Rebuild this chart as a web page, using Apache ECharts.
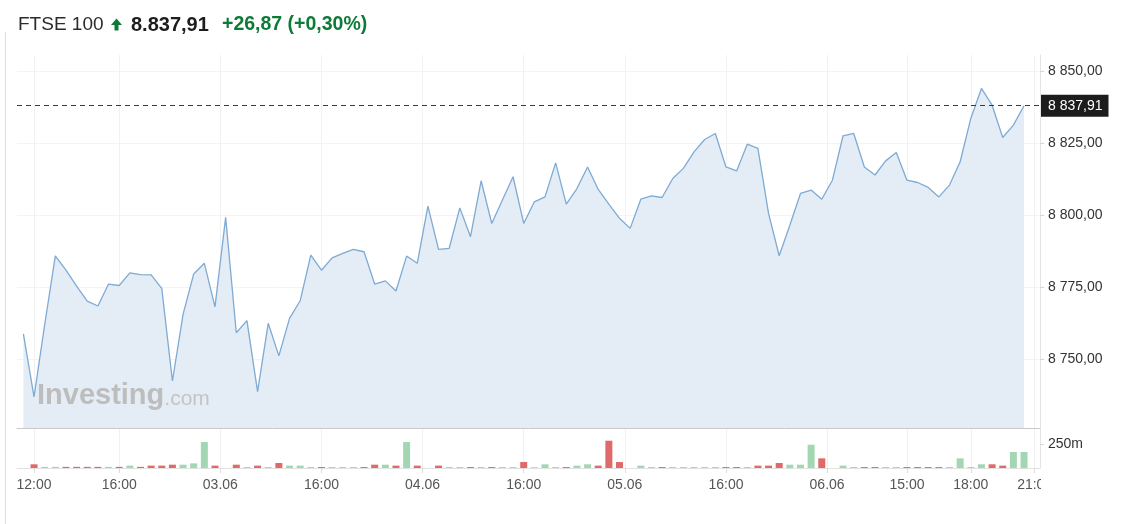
<!DOCTYPE html>
<html><head><meta charset="utf-8">
<script src="https://cdn.jsdelivr.net/npm/echarts@6/dist/echarts.min.js"></script>
<style>html,body{margin:0;padding:0;background:#fff}#c{width:1126px;height:524px}</style>
</head><body><div id="c"></div>
<script>
// ---- data (half-hour points, 02.06 11:30 -> 06.06 20:30) ----
const prices = [
  8758.8, 8737.0, 8762.0, 8785.9, 8780.9, 8775.4, 8770.2, 8768.5, 8776.1, 8775.6,
  8780.0, 8779.4, 8779.3, 8774.6, 8742.5, 8765.6, 8779.6, 8783.3, 8768.2, 8799.2,
  8759.2, 8763.4, 8738.8, 8762.5, 8751.2, 8764.2, 8770.3, 8786.1, 8780.9, 8785.2,
  8786.7, 8788.1, 8787.3, 8776.1, 8777.2, 8773.7, 8785.8, 8783.3, 8803.1, 8788.1,
  8788.5, 8802.5, 8792.5, 8811.9, 8797.1, 8805.2, 8813.3, 8797.1, 8804.6, 8806.3,
  8818.1, 8803.8, 8809.2, 8816.7, 8808.9, 8803.8, 8798.9, 8795.4, 8805.5, 8806.7,
  8806.1, 8812.7, 8816.2, 8821.9, 8826.2, 8828.3, 8816.7, 8815.3, 8824.6, 8823.1,
  8800.6, 8785.9, 8796.5, 8807.5, 8808.7, 8805.5, 8812.1, 8827.5, 8828.3, 8816.7,
  8813.9, 8818.8, 8821.7, 8812.1, 8811.3, 8809.6, 8806.3, 8810.4, 8818.5, 8833.5,
  8843.9, 8838.1, 8826.9, 8831.2, 8837.91
];
// volume in millions
const volumes = [
  0, 39, 12, 12, 12, 12, 12, 12, 12, 12,
  25, 12, 25, 25, 35, 35, 49, 274, 25, 0,
  35, 10, 25, 10, 53, 25, 25, 10, 10, 10,
  10, 10, 10, 35, 35, 25, 274, 25, 0, 25,
  10, 10, 10, 10, 10, 10, 10, 63, 8, 39,
  10, 10, 25, 39, 25, 288, 63, 0, 25, 10,
  10, 10, 10, 10, 10, 10, 10, 10, 10, 25,
  25, 53, 35, 35, 246, 102, 0, 25, 10, 10,
  10, 10, 10, 10, 10, 10, 10, 10, 102, 10,
  39, 39, 25, 169, 169
];
const tickPositions = [1, 9, 18.5, 28, 37.5, 47, 56.5, 66, 75.5, 83, 89, 95];
const tickLabels = ['12:00','16:00','03.06','16:00','04.06','16:00','05.06','16:00','06.06','15:00','18:00','21:00'];
const priceTicks = [8750, 8775, 8800, 8825, 8850];
const volumeTicks = [250];
const lastPrice = 8837.91;
const headerName = 'FTSE 100';
const headerPrice = '8.837,91';
const headerChange = '+26,87 (+0,30%)';

// ---- helpers ----
function fmtPrice(v) {
  const s = Number(v).toFixed(2).split('.');
  return s[0].replace(/\B(?=(\d{3})+(?!\d))/g, ' ') + ',' + s[1];
}
function tickLabel(v) {
  for (let i = 0; i < tickPositions.length; i++) if (Math.abs(tickPositions[i] - v) < 1e-6) return tickLabels[i];
  return '';
}
const UP = '#a3d7b3', DOWN = '#e06a69';
const AXISFONT = '"Liberation Sans", Arial, sans-serif';
const HEADFONT = '"Liberation Sans", Arial, sans-serif';

const chart = echarts.init(document.getElementById('c'), null, {renderer: 'canvas'});
const gridL = 17, gridR = 86;
chart.setOption({
  animation: false,
  backgroundColor: '#fff',
  grid: [
    {left: gridL, right: gridR, top: 55, height: 373},
    {left: gridL, right: gridR, top: 428, height: 40}
  ],
  xAxis: [
    {type: 'value', gridIndex: 0, min: -0.6, max: 95.5,
     axisLine: {show: true, onZero: false, lineStyle: {color: '#c9c9c9'}},
     axisTick: {show: false, customValues: tickPositions},
     axisLabel: {show: false, customValues: tickPositions},
     splitLine: {show: true, lineStyle: {color: '#f1f1f1', width: 1}}},
    {type: 'value', gridIndex: 1, min: -0.6, max: 95.5,
     axisLine: {show: true, onZero: false, lineStyle: {color: '#e2e2e2'}},
     axisTick: {show: true, length: 5, customValues: tickPositions, lineStyle: {color: '#dcdcdc'}},
     axisLabel: {show: true, customValues: tickPositions, formatter: tickLabel, margin: 10,
                 color: '#555', fontSize: 14, fontFamily: AXISFONT},
     splitLine: {show: true, lineStyle: {color: '#f1f1f1', width: 1}}}
  ],
  yAxis: [
    {type: 'value', gridIndex: 0, position: 'right', min: 8726.2, max: 8855.5,
     axisLine: {show: true, onZero: false, lineStyle: {color: '#e4e4e4'}},
     axisTick: {show: true, length: 4, customValues: priceTicks, lineStyle: {color: '#d4d4d4'}},
     axisLabel: {customValues: priceTicks, formatter: fmtPrice, margin: 8, color: '#333',
                 fontSize: 14, fontFamily: AXISFONT},
     splitLine: {show: true, lineStyle: {color: '#f3f3f3'}}},
    {type: 'value', gridIndex: 1, position: 'right', min: 0, max: 422,
     axisLine: {show: true, onZero: false, lineStyle: {color: '#e4e4e4'}},
     axisTick: {show: true, length: 4, customValues: volumeTicks, lineStyle: {color: '#d4d4d4'}},
     axisLabel: {customValues: volumeTicks, formatter: v => v + 'm', margin: 8, color: '#333',
                 fontSize: 14, fontFamily: AXISFONT},
     splitLine: {show: false}}
  ],
  series: [
    {type: 'line', xAxisIndex: 0, yAxisIndex: 0, showSymbol: false, silent: true,
     data: prices.map((v, i) => [i, v]),
     lineStyle: {color: '#7eaad3', width: 1.3},
     areaStyle: {color: '#e4edf6', opacity: 1, origin: 'start'},
     z: 2,
     markLine: {symbol: 'none', silent: true, animation: false,
       data: [{yAxis: lastPrice}],
       lineStyle: {type: [5, 4], color: '#3a3a3a', width: 1},
       label: {position: 'end', distance: 1, formatter: () => fmtPrice(lastPrice),
               backgroundColor: '#1c1c1c', color: '#fff', padding: [4, 6, 4, 7],
               fontSize: 14, fontFamily: AXISFONT}}},
    {type: 'bar', xAxisIndex: 1, yAxisIndex: 1, barWidth: 7, silent: true,
     data: volumes.map((v, i) => ({value: [i, v],
       itemStyle: {color: (i > 0 && prices[i] < prices[i - 1]) ? DOWN : UP}}))}
  ],
  graphic: [
    {type: 'line', z: 100, shape: {x1: 5.5, y1: 32, x2: 5.5, y2: 524}, style: {stroke: '#dedede', lineWidth: 1}},
    {type: 'text', z: 100, x: 18, y: 25,
     style: {text: headerName, font: '19px ' + HEADFONT, fill: '#2b2b2b', verticalAlign: 'middle'}},
    {type: 'polygon', z: 100,
     shape: {points: [[116.5, 18.5], [122, 25], [118.5, 25], [118.5, 30.5], [114.5, 30.5], [114.5, 25], [111, 25]]},
     style: {fill: '#0e7a38'}},
    {type: 'text', z: 100, x: 131, y: 25,
     style: {text: headerPrice, font: 'bold 20px ' + HEADFONT, fill: '#1d1d1d', verticalAlign: 'middle'}},
    {type: 'text', z: 100, x: 222, y: 25,
     style: {text: headerChange, font: 'bold 19.5px ' + HEADFONT, fill: '#0e7a38', verticalAlign: 'middle'}},
    {type: 'text', z: 100, left: 37, top: 381,
     style: {text: '{a|Investing}{b|.com}', fontFamily: AXISFONT,
       rich: {a: {fontSize: 29, fontWeight: 'bold', fill: '#bdbdbd', fontFamily: AXISFONT, verticalAlign: 'bottom'},
              b: {fontSize: 21, fill: '#c4c4c4', fontFamily: AXISFONT, verticalAlign: 'bottom'}}}},
    {type: 'rect', z: 100, shape: {x: 1041, y: 472, width: 85, height: 30}, style: {fill: '#fff'}}
  ]
});
</script>
</body></html>
